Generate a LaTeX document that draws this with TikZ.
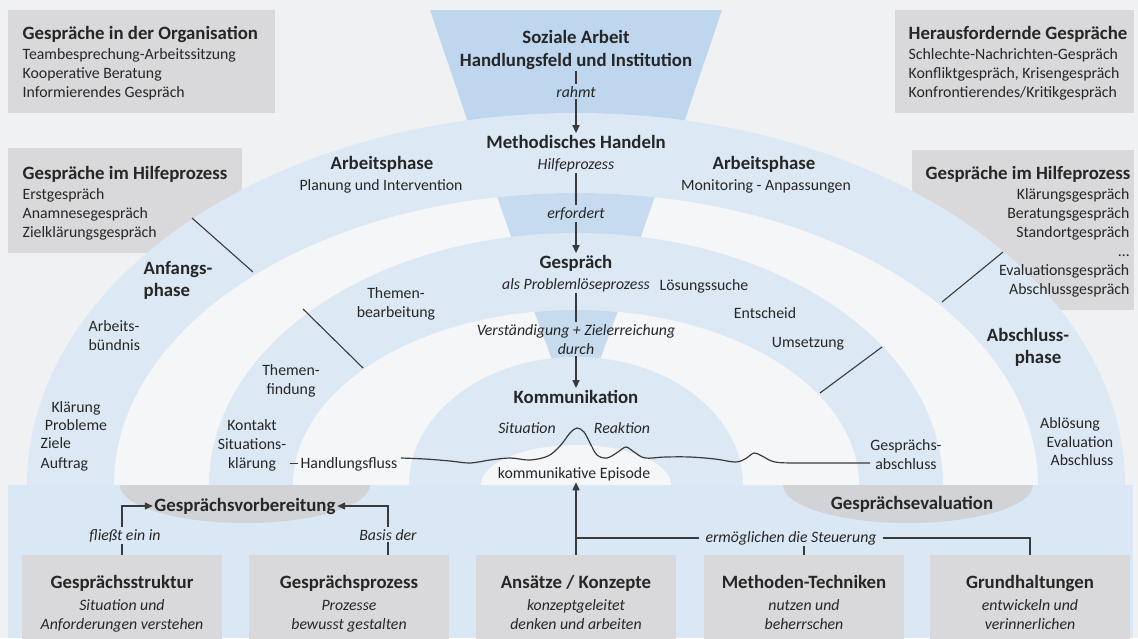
\documentclass[tikz,border=0pt]{standalone}
\usepackage{fontspec}
\setmainfont{Carlito}
\usetikzlibrary{arrows.meta}
\definecolor{bgc}{HTML}{F0F1F3}
\definecolor{ringc}{HTML}{DCE9F5}
\definecolor{bandc}{HTML}{DAE8F5}
\definecolor{wbandc}{HTML}{F5F6F8}
\definecolor{funa}{HTML}{BED6EE}
\definecolor{funb}{HTML}{C7DBEF}
\definecolor{boxc}{HTML}{D9D9DB}
\definecolor{lensc}{HTML}{D1D3D6}
\definecolor{txtc}{HTML}{262626}
\definecolor{linec}{HTML}{3A3A3A}
\begin{document}
\begin{tikzpicture}[x=1pt,y=-1pt,
  every node/.style={text=txtc, inner sep=1.5pt},
  tb/.style={font=\fontsize{18.8}{22}\selectfont\bfseries},
  tx/.style={font=\fontsize{15.8}{19}\selectfont},
  ti/.style={font=\fontsize{15.8}{19}\selectfont\itshape},
  ln/.style={draw=linec, line width=1.3pt},
  arr/.style={ln, -{Triangle[width=7pt,length=8pt]}},
  boxb/.style={fill=boxc, inner sep=0pt, minimum width=200pt, minimum height=84pt},
]
\useasboundingbox (0,0) rectangle (1138,638);
\fill[bgc] (0,0) rectangle (1138,638);
% top grey boxes
\fill[boxc] (8,10) rectangle (275,113);
\fill[boxc] (895,10) rectangle (1134,113);
\fill[boxc] (8,148) rectangle (242,253);
\fill[boxc] (912,150) rectangle (1134,310);
% top funnel
\fill[funa] (430,10) -- (722,10) -- (678,140) -- (474,140) -- cycle;
% rings
\begin{scope}
  \clip (0,0) rectangle (1138,485);
  \fill[ringc] (576,485) ellipse [x radius=549, y radius=372];
  \fill[wbandc] (576,485) ellipse [x radius=462, y radius=292];
  \begin{scope}
    \clip (576,485) ellipse [x radius=462, y radius=292];
    \fill[funb] (493,185) -- (659,185) -- (638,245) -- (514,245) -- cycle;
  \end{scope}
  \fill[ringc] (576,485) ellipse [x radius=367, y radius=252];
  \fill[wbandc] (576,485) ellipse [x radius=283, y radius=175];
  \begin{scope}
    \clip (576,485) ellipse [x radius=283, y radius=175];
    \fill[funb] (530,300) -- (622,300) -- (598,365) -- (554,365) -- cycle;
  \end{scope}
  \fill[ringc] (576,485) ellipse [x radius=167, y radius=128];
  \fill[wbandc] (576,485) ellipse [x radius=95, y radius=40];
\end{scope}
% bottom band
\fill[bandc] (8,485) rectangle (1133,638);
\begin{scope}
  \clip (0,485) rectangle (1138,638);
  \fill[lensc] (245,485) ellipse [x radius=125, y radius=38];
  \fill[lensc] (908,485) ellipse [x radius=125, y radius=38];
\end{scope}
% bottom boxes
\node[boxb] (gs) at (122,597) {};
\node[boxb] (gp) at (349,597) {};
\node[boxb] (ak) at (576,597) {};
\node[boxb] (mt) at (804,597) {};
\node[boxb] (gh) at (1030,597) {};
% phase separators
\draw[ln, line width=1.1pt] (192,218) -- (253,272);
\draw[ln, line width=1.1pt] (303,309) -- (363,368);
\draw[ln, line width=1.1pt] (1003,252) -- (942,302);
\draw[ln, line width=1.1pt] (882,347) -- (820,393);

% top-left boxes text
\node[tb, anchor=base west] (org) at (21,39) {Gespräche in der Organisation};
\node[tx, anchor=base west, align=left] (orgl) at (21,97) {Teambesprechung-Arbeitssitzung\\Kooperative Beratung\\Informierendes Gespräch};
\node[tb, anchor=base west] (hpl) at (21,179) {Gespräche im Hilfeprozess};
\node[tx, anchor=base west, align=left] (hpll) at (21,237) {Erstgespräch\\Anamnesegespräch\\Zielklärungsgespräch};
% top-right boxes text
\node[tb, anchor=base west] (her) at (907,39) {Herausfordernde Gespräche};
\node[tx, anchor=base west, align=left] (herl) at (907,97) {Schlechte-Nachrichten-Gespräch\\Konfliktgespräch, Krisengespräch\\Konfrontierendes/Kritikgespräch};
\node[tb, anchor=base east] (hpr) at (1132,179) {Gespräche im Hilfeprozess};
\node[tx, anchor=base east, align=right] (hprl) at (1131,294) {Klärungsgespräch\\Beratungsgespräch\\Standortgespräch\\\dots\\Evaluationsgespräch\\Abschlussgespräch};

% center column
\node[tb, anchor=base] (soz1) at (576,43) {Soziale Arbeit};
\node[tb, anchor=base] (soz2) at (576,66) {Handlungsfeld und Institution};
\node[ti, anchor=base] (rahmt) at (576,97) {rahmt};
\node[tb, anchor=base] (meth) at (576,148) {Methodisches Handeln};
\node[ti, anchor=base] (hilfe) at (576,169) {Hilfeprozess};
\node[ti, anchor=base] (erf) at (576,218) {erfordert};
\node[tb, anchor=base] (gespr) at (576,268) {Gespräch};
\node[ti, anchor=base] (plp) at (576,289) {als Problemlöseprozess};
\node[ti, anchor=base, align=center] (verst) at (576,354) {Verständigung + Zielerreichung\\durch};
\node[tb, anchor=base] (komm) at (576,403) {Kommunikation};
\node[ti, anchor=base] (sit) at (527,433) {Situation};
\node[ti, anchor=base] (reak) at (622,433) {Reaktion};
\node[tx, anchor=base] (epi) at (574,478) {kommunikative Episode};

\draw[ln] (soz2.south) -- (rahmt.north);
\draw[arr] (rahmt.south) -- (meth.north);
\draw[ln] (hilfe.south) -- (erf.north);
\draw[arr] (erf.south) -- (gespr.north);
\draw[ln] (plp.south) -- (verst.north);
\draw[arr] (verst.south) -- (komm.north);

% phases
\node[tb, anchor=base] (apl) at (382,169) {Arbeitsphase};
\node[tx, anchor=base] (apl2) at (381,190) {Planung und Intervention};
\node[tb, anchor=base] (apr) at (764,169) {Arbeitsphase};
\node[tx, anchor=base] (apr2) at (766,190) {Monitoring - Anpassungen};
\node[tb, anchor=base west, align=left] (anf) at (142,296) {Anfangs-\\phase};
\node[tx, anchor=base west, align=left] (abue) at (87,350) {Arbeits-\\bündnis};
\node[tx, anchor=base] (kl1) at (76,412) {Klärung};
\node[tx, anchor=base] (kl2) at (76,430) {Probleme};
\node[tx, anchor=base west] (kl3) at (39,448) {Ziele};
\node[tx, anchor=base west] (kl4) at (39,468) {Auftrag};
\node[tx, anchor=base, align=center] (tf) at (291,394) {Themen-\\findung};
\node[tx, anchor=base, align=center] (kon) at (252,468) {Kontakt\\Situations-\\klärung};
\node[tx, anchor=base] (hf) at (349,468) {Handlungsfluss};
\node[tx, anchor=base, align=center] (tb) at (396,317) {Themen-\\bearbeitung};
\node[tx, anchor=base] (loes) at (704,290) {Lösungssuche};
\node[tx, anchor=base] (ent) at (765,318) {Entscheid};
\node[tx, anchor=base] (ums) at (808,347) {Umsetzung};
\node[tb, anchor=base] (abs1) at (1028,341) {Abschluss-};
\node[tb, anchor=base] (abs2) at (1038,363) {phase};
\node[tx, anchor=base] (abl1) at (1070,428) {Ablösung};
\node[tx, anchor=base] (abl2) at (1080,447) {Evaluation};
\node[tx, anchor=base] (abl3) at (1082,465) {Abschluss};
\node[tx, anchor=base, align=center] (gab) at (906,469) {Gesprächs-\\abschluss};

\draw[ln, line width=1pt, shorten <=2pt, shorten >=1pt] (kon.east |- hf.west) -- (hf.west);
% wave
\draw[ln, line width=1.2pt] plot[smooth, tension=0.55] coordinates {(401,458) (425,459) (450,461) (470,463) (490,460) (510,458) (530,460) (548,456) (560,446) (570,433) (577,428) (584,432) (590,443) (597,455) (607,458) (618,452) (626,447) (634,452) (645,458) (665,457) (690,457) (715,459) (735,462) (745,459) (754,453) (762,456) (775,462) (800,463) (870,463)};

% bottom
\node[tb, anchor=base] (gv) at (245,511) {Gesprächsvorbereitung};
\node[tb, anchor=base] (gev) at (912,509) {Gesprächsevaluation};
\node[ti, anchor=base] (fl) at (125,540) {fließt ein in};
\node[ti, anchor=base] (bd) at (388,540) {Basis der};
\node[ti, anchor=base, inner xsep=6pt] (erm) at (791,542) {ermöglichen die Steuerung};

\draw[ln] (gs.north) -- (gs.north |- fl.south);
\draw[arr] (gs.north |- fl.north) |- (gv.west);
\draw[ln] (gp.north -| bd.south) -- (bd.south);
\draw[arr] (bd.north) |- (gv.east);
\draw[arr] (ak.north) -- (ak.north |- epi.south);
\draw[ln] (ak.north |- erm.west) -- (erm.west);
\draw[ln] (erm.east) -| (gh.north);
\draw[ln] (mt.north) -- (mt.north |- erm.south);

\node[tb, anchor=base] (gs1) at (122,588) {Gesprächsstruktur};
\node[ti, anchor=base, align=center] (gs2) at (122,629) {Situation und\\Anforderungen verstehen};
\node[tb, anchor=base] (gp1) at (349,588) {Gesprächsprozess};
\node[ti, anchor=base, align=center] (gp2) at (349,629) {Prozesse\\bewusst gestalten};
\node[tb, anchor=base] (ak1) at (576,588) {Ansätze / Konzepte};
\node[ti, anchor=base, align=center] (ak2) at (576,629) {konzeptgeleitet\\denken und arbeiten};
\node[tb, anchor=base] (mt1) at (804,588) {Methoden-Techniken};
\node[ti, anchor=base, align=center] (mt2) at (804,629) {nutzen und\\beherrschen};
\node[tb, anchor=base] (gh1) at (1030,588) {Grundhaltungen};
\node[ti, anchor=base, align=center] (gh2) at (1030,629) {entwickeln und\\verinnerlichen};
\end{tikzpicture}
\end{document}
